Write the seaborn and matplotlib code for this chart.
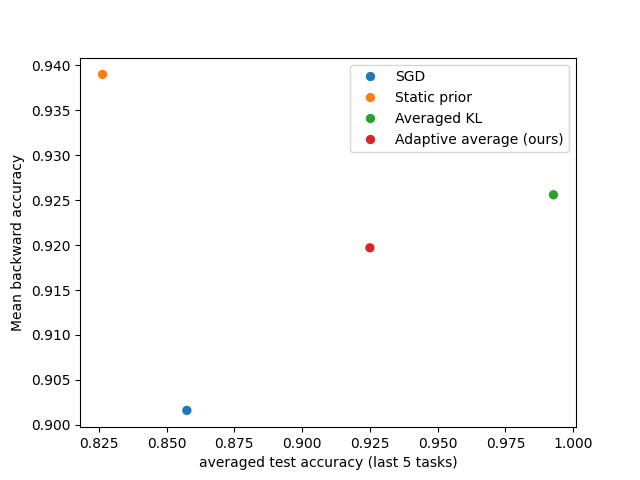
import matplotlib
matplotlib.use('Agg')
import matplotlib.pyplot as plt
import seaborn as sns
import pandas as pd

methods = ['SGD', 'Static prior', 'Averaged KL', 'Adaptive average (ours)']
test_acc = [0.8575, 0.8264, 0.9927, 0.9250]
backward_acc = [0.9016, 0.9390, 0.9256, 0.9197]

df = pd.DataFrame({'method': methods, 'test': test_acc, 'back': backward_acc})

fig, ax = plt.subplots(figsize=(6.4, 4.8), dpi=100)
sns.scatterplot(data=df, x='test', y='back', hue='method', palette='tab10',
                s=45, edgecolor='none', ax=ax)
ax.set_xlabel('averaged test accuracy (last 5 tasks)')
ax.set_ylabel('Mean backward accuracy')
ax.legend(loc='upper right')
plt.savefig('out.png', dpi=100)
